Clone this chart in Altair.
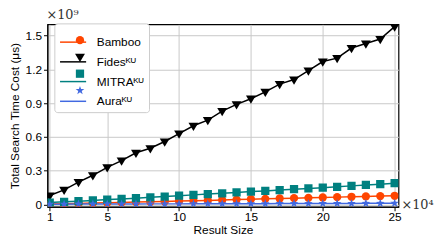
import altair as alt
import pandas as pd

result_size = list(range(1, 26))
series_names = ["Bamboo", "Fidesᴷᵁ", "MITRAᴷᵁ", "Auraᴷᵁ"]
fides = [0.08, 0.13, 0.20, 0.26, 0.33, 0.39, 0.46, 0.50, 0.56, 0.63, 0.70, 0.75, 0.83,
         0.89, 0.94, 1.00, 1.07, 1.11, 1.19, 1.27, 1.30, 1.39, 1.43, 1.47, 1.58]
mitra = [0.018, 0.024, 0.030, 0.037, 0.044, 0.050, 0.057, 0.064, 0.071, 0.079, 0.086, 0.093, 0.100,
         0.108, 0.115, 0.121, 0.129, 0.136, 0.143, 0.150, 0.158, 0.166, 0.174, 0.181, 0.190]
bamboo = [0.004, 0.007, 0.010, 0.013, 0.016, 0.019, 0.022, 0.025, 0.028, 0.031, 0.034, 0.037, 0.040,
          0.044, 0.048, 0.051, 0.054, 0.057, 0.060, 0.063, 0.066, 0.069, 0.072, 0.075, 0.078]
aura = [0.003, 0.003, 0.004, 0.004, 0.005, 0.005, 0.005, 0.006, 0.006, 0.006, 0.007, 0.007, 0.007,
        0.008, 0.008, 0.008, 0.009, 0.009, 0.009, 0.010, 0.010, 0.010, 0.011, 0.011, 0.012]
colors = ["#FF4500", "#000000", "#008080", "#4169E1"]
shapes = ["circle",
          "M-1.2,-0.75L1.2,-0.75L0,1.25Z",
          "square",
          "M0,-1.1L0.26,-0.36L1.05,-0.34L0.42,0.14L0.65,0.9L0,0.44L-0.65,0.9L-0.42,0.14L-1.05,-0.34L-0.26,-0.36Z"]
y_ticks = [0, 0.3, 0.6, 0.9, 1.2, 1.5]
x_ticks = [1, 5, 10, 15, 20, 25]

# marker keys differ from series names so that Vega-Lite keeps two legends (overlaid)
marker_keys = [n + " " for n in series_names]

rows = []
for name, key, vals in zip(series_names, marker_keys, [bamboo, fides, mitra, aura]):
    for x, v in zip(result_size, vals):
        rows.append({"x": x, "y": v, "series": name, "marker": key})
df = pd.DataFrame(rows)

sans = "Liberation Sans"
serif = "DejaVu Serif"

xs = alt.Scale(domain=[0.84, 25.27], nice=False, zero=False)
ys = alt.Scale(domain=[-0.02, 1.6], nice=False, zero=False)

line_legend = alt.Legend(title=None, orient="none", legendX=7, legendY=-1,
                         fillColor="white", strokeColor="#cccccc", padding=5,
                         cornerRadius=3, labelFont=sans, labelFontSize=12, labelColor="black",
                         symbolType="stroke", symbolSize=700, symbolStrokeWidth=1.5,
                         rowPadding=-9, labelOffset=10, zindex=1, labelLimit=200)
pt_legend = alt.Legend(title=None, orient="none", legendX=22, legendY=5,
                       padding=5, labelFont=sans, labelFontSize=12, labelOpacity=0,
                       symbolSize=70, symbolStrokeWidth=0, symbolOpacity=1,
                       rowPadding=5, labelOffset=10, zindex=2, labelLimit=200)

stroke_enc = alt.Stroke("series:N", scale=alt.Scale(domain=series_names, range=colors), legend=line_legend)
fill_enc = alt.Fill("marker:N", scale=alt.Scale(domain=marker_keys, range=colors), legend=pt_legend)
shp = alt.Shape("marker:N", scale=alt.Scale(domain=marker_keys, range=shapes), legend=pt_legend)

xax = alt.Axis(values=x_ticks, title="Result Size", grid=True, gridColor="#c8c8c8",
               labelFont=sans, titleFont=sans, labelFontSize=12, titleFontSize=12,
               titleFontWeight="normal", tickColor="black", domainColor="black", labelColor="black",
               titleColor="black", tickSize=4, labelPadding=1, titlePadding=2, labelOverlap=False)
yax = alt.Axis(values=y_ticks, title="Total Search Time Cost (μs)", grid=True, gridColor="#c8c8c8",
               labelFont=sans, titleFont=sans, labelFontSize=12, titleFontSize=12,
               titleFontWeight="normal", tickColor="black", domainColor="black", labelColor="black",
               titleColor="black", tickSize=4, labelPadding=2, labelOverlap=False,
               labelExpr="datum.value == 0 ? '0' : format(datum.value, '.1f')", titlePadding=4)

base = alt.Chart(df)
lines = base.mark_line(strokeWidth=1.5, clip=True).encode(
    x=alt.X("x:Q", scale=xs, axis=xax),
    y=alt.Y("y:Q", scale=ys, axis=yax),
    stroke=stroke_enc,
    detail="series:N",
)
points = base.mark_point(filled=True, opacity=1, size=70, strokeWidth=0, clip=True).encode(
    x=alt.X("x:Q", scale=xs, axis=xax),
    y=alt.Y("y:Q", scale=ys, axis=yax),
    fill=fill_enc,
    shape=shp,
)
exp9 = alt.Chart(pd.DataFrame({"t": ["×10⁹"]})).mark_text(
    font=serif, fontSize=13, align="left", baseline="bottom", color="#333333"
).encode(text="t:N", x=alt.value(-1), y=alt.value(-2))
exp4 = alt.Chart(pd.DataFrame({"t": ["×10⁴"]})).mark_text(
    font=serif, fontSize=13, align="left", baseline="middle", color="#333333", dx=3, dy=-2
).encode(text="t:N", x=alt.value("width"), y=alt.value("height"))

chart = alt.layer(lines, points, exp9, exp4).properties(
    width=432, height=229,
    autosize=alt.AutoSizeParams(type="fit", contains="padding"),
    padding={"left": 0, "top": 0, "right": 0, "bottom": 0},
).configure_view(stroke="black", strokeWidth=1.2)

chart.save("out.html", embed_options={"renderer": "svg", "actions": False})
